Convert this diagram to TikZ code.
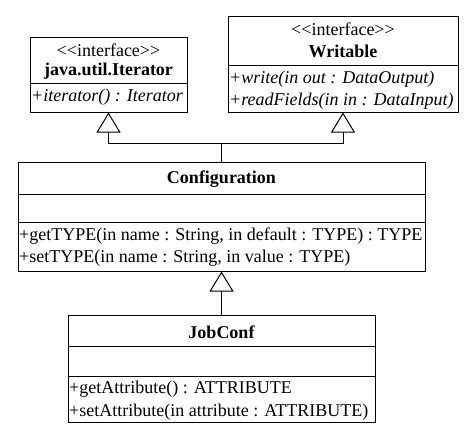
\documentclass[tikz,border=0pt]{standalone}
\usepackage{fontspec}
\setmainfont{Liberation Serif}
\usetikzlibrary{arrows.meta}

\begin{document}
\begin{tikzpicture}[x=1pt, y=-1pt,
  classbox/.style={draw, line width=1pt, inner sep=0pt},
  txt/.style={inner sep=0pt, font=\fontsize{18}{20}\selectfont},
  sep/.style={line width=1pt},
  inherit/.style={line width=1pt, -{Triangle[open, length=20pt, width=24pt, line width=1pt]}}]
\useasboundingbox (0,0) rectangle (474,429);

\node[classbox, minimum width=157pt, minimum height=75pt] (iter) at (108.5,74.5) {};
\draw[sep] (iter.west |- 0,83) -- (iter.east |- 0,83);
\node[txt] (iterst) at (108.5,50) {<{}<interface>{}>};
\node[txt, font=\fontsize{18}{20}\selectfont\bfseries] (itername) at (108.5,71) {java.util.Iterator};
\node[txt, anchor=west, font=\fontsize{18}{20}\selectfont\itshape] (iterm) at (31,97) {+iterator() : Iterator};

\node[classbox, minimum width=230pt, minimum height=96pt] (wr) at (343,64) {};
\draw[sep] (wr.west |- 0,65) -- (wr.east |- 0,65);
\node[txt] (wrst) at (343,29) {<{}<interface>{}>};
\node[txt, font=\fontsize{18}{20}\selectfont\bfseries] (wrname) at (343,51) {Writable};
\node[txt, anchor=west, font=\fontsize{18}{20}\selectfont\itshape] (wrm1) at (229,79) {+write(in out : DataOutput)};
\node[txt, anchor=west, font=\fontsize{18}{20}\selectfont\itshape] (wrm2) at (229,101) {+readFields(in in : DataInput)};

\node[classbox, minimum width=407pt, minimum height=109pt] (conf) at (221.5,216.5) {};
\draw[sep] (conf.west |- 0,194) -- (conf.east |- 0,194);
\draw[sep] (conf.west |- 0,222) -- (conf.east |- 0,222);
\node[txt, font=\fontsize{18}{20}\selectfont\bfseries] (confname) at (221.5,179) {Configuration};
\node[txt, anchor=west] (confm1) at (19,236) {+getTYPE(in name : String, in default : TYPE) : TYPE};
\node[txt, anchor=west] (confm2) at (19,258) {+setTYPE(in name : String, in value : TYPE)};

\node[classbox, minimum width=307pt, minimum height=107pt] (job) at (221.5,368.5) {};
\draw[sep] (job.west |- 0,346) -- (job.east |- 0,346);
\draw[sep] (job.west |- 0,376) -- (job.east |- 0,376);
\node[txt, font=\fontsize{18}{20}\selectfont\bfseries] (jobname) at (221.5,332) {JobConf};
\node[txt, anchor=west] (jobm1) at (69,389) {+getAttribute() : ATTRIBUTE};
\node[txt, anchor=west] (jobm2) at (69,412) {+setAttribute(in attribute : ATTRIBUTE)};

\coordinate (join) at (conf.north |- 0,143);
\draw[line width=1pt] (conf.north) -- (join);
\draw[inherit] (join) -| (iter.south);
\draw[inherit] (join) -| (wr.south);

\draw[inherit] (job.north) -- (conf.south);
\end{tikzpicture}
\end{document}
